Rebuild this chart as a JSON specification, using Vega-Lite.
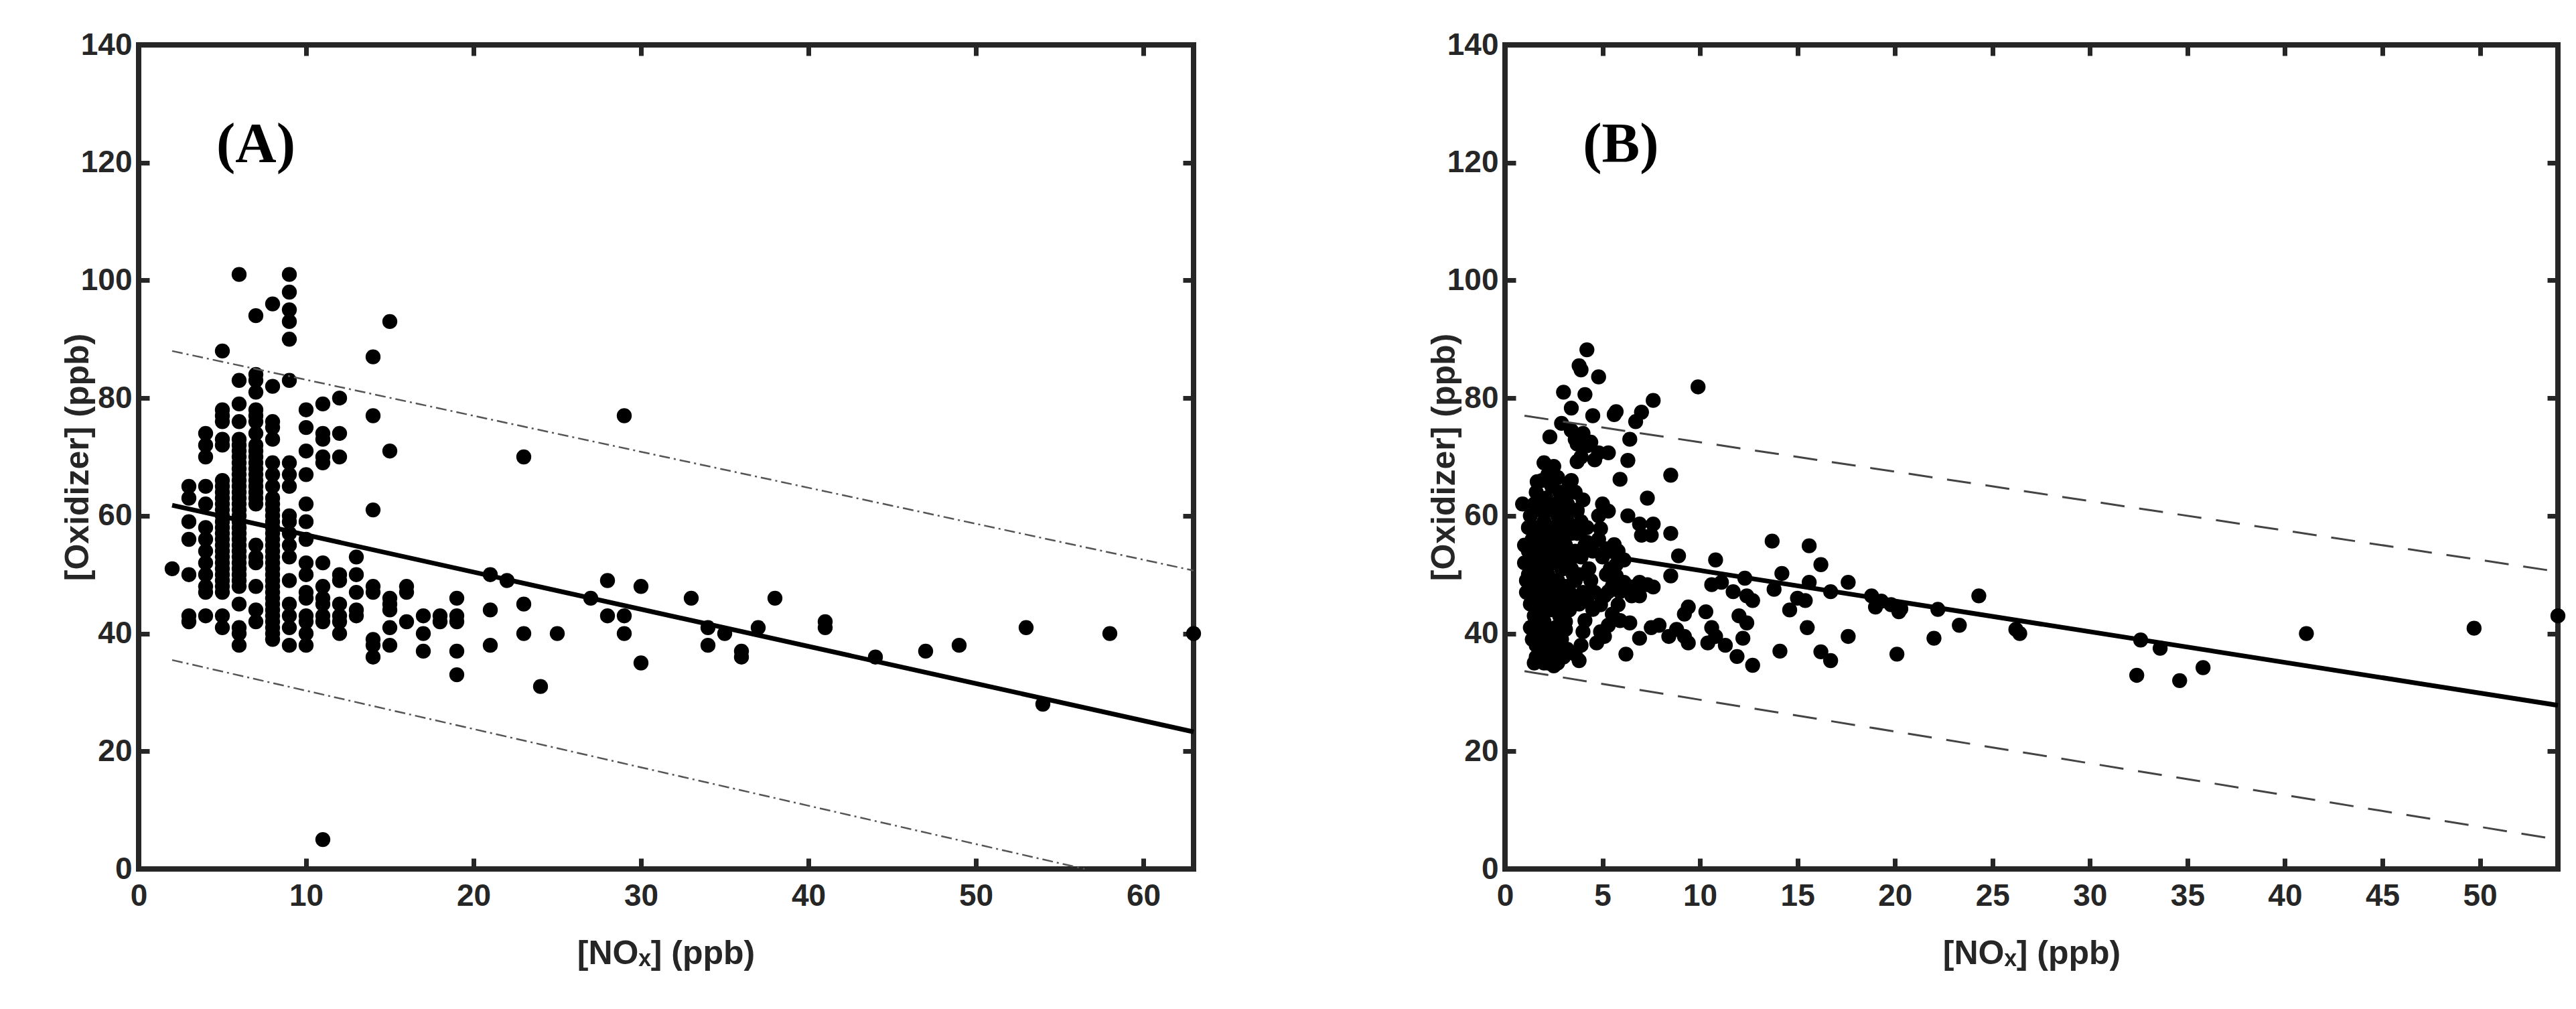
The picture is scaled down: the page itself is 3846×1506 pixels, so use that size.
{
  "$schema": "https://vega.github.io/schema/vega-lite/v6.json",
  "background": "white",
  "padding": {"left": 87, "top": 40, "right": 0, "bottom": 0},
  "spacing": 465,
  "bounds": "flush",
  "datasets": {
    "a_pts": [
      {"nox":2,"ox":51},
      {"nox":3,"ox":65},{"nox":3,"ox":63},{"nox":3,"ox":59},{"nox":3,"ox":56},{"nox":3,"ox":50},{"nox":3,"ox":43},{"nox":3,"ox":42},
      {"nox":4,"ox":74},{"nox":4,"ox":72},{"nox":4,"ox":70},{"nox":4,"ox":65},{"nox":4,"ox":62},{"nox":4,"ox":58},{"nox":4,"ox":56},{"nox":4,"ox":54},{"nox":4,"ox":52},{"nox":4,"ox":50},{"nox":4,"ox":48},{"nox":4,"ox":47},{"nox":4,"ox":43},
      {"nox":5,"ox":88},{"nox":5,"ox":78},{"nox":5,"ox":77},{"nox":5,"ox":76},{"nox":5,"ox":73},{"nox":5,"ox":72},{"nox":5,"ox":66},{"nox":5,"ox":65},{"nox":5,"ox":64},{"nox":5,"ox":63},{"nox":5,"ox":62},{"nox":5,"ox":61},{"nox":5,"ox":60},{"nox":5,"ox":59},{"nox":5,"ox":58},{"nox":5,"ox":57},{"nox":5,"ox":56},{"nox":5,"ox":55},{"nox":5,"ox":54},{"nox":5,"ox":53},{"nox":5,"ox":52},{"nox":5,"ox":51},{"nox":5,"ox":50},{"nox":5,"ox":49},{"nox":5,"ox":48},{"nox":5,"ox":47},{"nox":5,"ox":43},{"nox":5,"ox":41},
      {"nox":6,"ox":101},{"nox":6,"ox":83},{"nox":6,"ox":79},{"nox":6,"ox":76},{"nox":6,"ox":73},{"nox":6,"ox":72},{"nox":6,"ox":71},{"nox":6,"ox":70},{"nox":6,"ox":69},{"nox":6,"ox":68},{"nox":6,"ox":67},{"nox":6,"ox":66},{"nox":6,"ox":65},{"nox":6,"ox":64},{"nox":6,"ox":63},{"nox":6,"ox":62},{"nox":6,"ox":61},{"nox":6,"ox":60},{"nox":6,"ox":59},{"nox":6,"ox":58},{"nox":6,"ox":57},{"nox":6,"ox":56},{"nox":6,"ox":55},{"nox":6,"ox":54},{"nox":6,"ox":53},{"nox":6,"ox":52},{"nox":6,"ox":51},{"nox":6,"ox":50},{"nox":6,"ox":49},{"nox":6,"ox":48},{"nox":6,"ox":45},{"nox":6,"ox":41},{"nox":6,"ox":40},{"nox":6,"ox":38},
      {"nox":7,"ox":94},{"nox":7,"ox":84},{"nox":7,"ox":83},{"nox":7,"ox":81},{"nox":7,"ox":78},{"nox":7,"ox":77},{"nox":7,"ox":76},{"nox":7,"ox":74},{"nox":7,"ox":72},{"nox":7,"ox":71},{"nox":7,"ox":70},{"nox":7,"ox":69},{"nox":7,"ox":68},{"nox":7,"ox":67},{"nox":7,"ox":66},{"nox":7,"ox":65},{"nox":7,"ox":64},{"nox":7,"ox":63},{"nox":7,"ox":62},{"nox":7,"ox":55},{"nox":7,"ox":53},{"nox":7,"ox":52},{"nox":7,"ox":48},{"nox":7,"ox":44},{"nox":7,"ox":42},
      {"nox":8,"ox":96},{"nox":8,"ox":82},{"nox":8,"ox":76},{"nox":8,"ox":75},{"nox":8,"ox":73},{"nox":8,"ox":69},{"nox":8,"ox":67},{"nox":8,"ox":65},{"nox":8,"ox":63},{"nox":8,"ox":62},{"nox":8,"ox":61},{"nox":8,"ox":60},{"nox":8,"ox":59},{"nox":8,"ox":58},{"nox":8,"ox":57},{"nox":8,"ox":56},{"nox":8,"ox":55},{"nox":8,"ox":54},{"nox":8,"ox":53},{"nox":8,"ox":52},{"nox":8,"ox":51},{"nox":8,"ox":50},{"nox":8,"ox":49},{"nox":8,"ox":48},{"nox":8,"ox":47},{"nox":8,"ox":46},{"nox":8,"ox":45},{"nox":8,"ox":44},{"nox":8,"ox":43},{"nox":8,"ox":42},{"nox":8,"ox":41},{"nox":8,"ox":40},{"nox":8,"ox":39},
      {"nox":9,"ox":101},{"nox":9,"ox":98},{"nox":9,"ox":95},{"nox":9,"ox":93},{"nox":9,"ox":90},{"nox":9,"ox":83},{"nox":9,"ox":69},{"nox":9,"ox":67},{"nox":9,"ox":65},{"nox":9,"ox":60},{"nox":9,"ox":59},{"nox":9,"ox":57},{"nox":9,"ox":55},{"nox":9,"ox":53},{"nox":9,"ox":49},{"nox":9,"ox":45},{"nox":9,"ox":43},{"nox":9,"ox":41},{"nox":9,"ox":38},
      {"nox":10,"ox":78},{"nox":10,"ox":75},{"nox":10,"ox":71},{"nox":10,"ox":67},{"nox":10,"ox":62},{"nox":10,"ox":59},{"nox":10,"ox":56},{"nox":10,"ox":52},{"nox":10,"ox":50},{"nox":10,"ox":47},{"nox":10,"ox":46},{"nox":10,"ox":43},{"nox":10,"ox":42},{"nox":10,"ox":40},{"nox":10,"ox":38},
      {"nox":11,"ox":79},{"nox":11,"ox":74},{"nox":11,"ox":73},{"nox":11,"ox":70},{"nox":11,"ox":69},{"nox":11,"ox":52},{"nox":11,"ox":48},{"nox":11,"ox":46},{"nox":11,"ox":45},{"nox":11,"ox":43},{"nox":11,"ox":42},{"nox":11,"ox":5},
      {"nox":12,"ox":80},{"nox":12,"ox":74},{"nox":12,"ox":70},{"nox":12,"ox":50},{"nox":12,"ox":49},{"nox":12,"ox":45},{"nox":12,"ox":43},{"nox":12,"ox":42},{"nox":12,"ox":40},
      {"nox":13,"ox":53},{"nox":13,"ox":50},{"nox":13,"ox":47},{"nox":13,"ox":44},{"nox":13,"ox":43},
      {"nox":14,"ox":87},{"nox":14,"ox":77},{"nox":14,"ox":61},{"nox":14,"ox":48},{"nox":14,"ox":47},{"nox":14,"ox":39},{"nox":14,"ox":38},{"nox":14,"ox":36},
      {"nox":15,"ox":93},{"nox":15,"ox":71},{"nox":15,"ox":46},{"nox":15,"ox":45},{"nox":15,"ox":44},{"nox":15,"ox":41},{"nox":15,"ox":38},
      {"nox":16,"ox":48},{"nox":16,"ox":47},{"nox":16,"ox":42},
      {"nox":17,"ox":43},{"nox":17,"ox":40},{"nox":17,"ox":37},
      {"nox":18,"ox":43},{"nox":18,"ox":42},
      {"nox":19,"ox":46},{"nox":19,"ox":43},{"nox":19,"ox":42},{"nox":19,"ox":37},{"nox":19,"ox":33},
      {"nox":21,"ox":50},{"nox":21,"ox":44},{"nox":21,"ox":38},
      {"nox":22,"ox":49},
      {"nox":23,"ox":70},{"nox":23,"ox":45},{"nox":23,"ox":40},
      {"nox":24,"ox":31},
      {"nox":25,"ox":40},
      {"nox":27,"ox":46},
      {"nox":28,"ox":49},{"nox":28,"ox":43},
      {"nox":29,"ox":77},{"nox":29,"ox":43},{"nox":29,"ox":40},
      {"nox":30,"ox":48},{"nox":30,"ox":35},
      {"nox":33,"ox":46},
      {"nox":34,"ox":41},{"nox":34,"ox":38},
      {"nox":35,"ox":40},
      {"nox":36,"ox":37},{"nox":36,"ox":36},
      {"nox":37,"ox":41},
      {"nox":38,"ox":46},
      {"nox":41,"ox":42},{"nox":41,"ox":41},
      {"nox":44,"ox":36},
      {"nox":47,"ox":37},
      {"nox":49,"ox":38},
      {"nox":53,"ox":41},
      {"nox":54,"ox":28},
      {"nox":58,"ox":40},
      {"nox":63,"ox":40}
    ],
    "a_lines": [
      {"line":"fit","nox":2,"ox":61.8},{"line":"fit","nox":63,"ox":23.3},
      {"line":"upper","nox":2,"ox":88},{"line":"upper","nox":63,"ox":50.7},
      {"line":"lower","nox":2,"ox":35.5},{"line":"lower","nox":56.5,"ox":0}
    ],
    "b_pts": [
      {"nox":0.9,"ox":62},{"nox":1.0,"ox":55},{"nox":1.0,"ox":52},{"nox":1.1,"ox":49},{"nox":1.1,"ox":47},{"nox":1.2,"ox":58},{"nox":1.2,"ox":54},{"nox":1.3,"ox":60},{"nox":1.3,"ox":45},{"nox":1.4,"ox":51},{"nox":1.4,"ox":56},{"nox":1.5,"ox":62},{"nox":1.5,"ox":48},{"nox":1.5,"ox":43},{"nox":1.6,"ox":38},{"nox":1.6,"ox":36},{"nox":1.5,"ox":35},{"nox":1.7,"ox":40},
      {"nox":1.6,"ox":64},{"nox":1.7,"ox":58},{"nox":1.7,"ox":53},{"nox":1.7,"ox":50},{"nox":1.8,"ox":46},{"nox":1.8,"ox":61},{"nox":1.8,"ox":56},{"nox":1.9,"ox":44},{"nox":1.9,"ox":66},{"nox":1.9,"ox":52},{"nox":2.0,"ox":59},{"nox":2.0,"ox":48},{"nox":2.0,"ox":42},{"nox":2.0,"ox":37},{"nox":2.0,"ox":35},{"nox":1.9,"ox":39},
      {"nox":2.1,"ox":63},{"nox":2.1,"ox":55},{"nox":2.1,"ox":51},{"nox":2.2,"ox":67},{"nox":2.2,"ox":46},{"nox":2.2,"ox":57},{"nox":2.3,"ox":61},{"nox":2.3,"ox":53},{"nox":2.3,"ox":44},{"nox":2.4,"ox":65},{"nox":2.4,"ox":49},{"nox":2.4,"ox":40},{"nox":2.4,"ox":36},{"nox":2.5,"ox":58},{"nox":2.5,"ox":55},{"nox":2.5,"ox":47},{"nox":2.5,"ox":34.5},{"nox":2.3,"ox":38},
      {"nox":2.6,"ox":62},{"nox":2.6,"ox":52},{"nox":2.6,"ox":45},{"nox":2.7,"ox":60},{"nox":2.7,"ox":56},{"nox":2.7,"ox":49},{"nox":2.8,"ox":64},{"nox":2.8,"ox":43},{"nox":2.8,"ox":53},{"nox":2.9,"ox":58},{"nox":2.9,"ox":47},{"nox":2.9,"ox":39},{"nox":3.0,"ox":61},{"nox":3.0,"ox":51},{"nox":3.0,"ox":45},{"nox":3.0,"ox":36},{"nox":2.7,"ox":35},
      {"nox":3.1,"ox":63},{"nox":3.1,"ox":55},{"nox":3.2,"ox":48},{"nox":3.2,"ox":59},{"nox":3.3,"ox":52},{"nox":3.3,"ox":44},{"nox":3.4,"ox":57},{"nox":3.4,"ox":61},{"nox":3.5,"ox":50},{"nox":3.5,"ox":46},{"nox":3.6,"ox":54},{"nox":3.6,"ox":64},{"nox":3.4,"ox":66},
      {"nox":3.7,"ox":57},{"nox":3.8,"ox":50},{"nox":3.9,"ox":53},{"nox":4.0,"ox":47},{"nox":4.1,"ox":55},{"nox":4.2,"ox":58},{"nox":4.3,"ox":51},{"nox":4.4,"ox":49},{"nox":4.5,"ox":54},{"nox":4.6,"ox":47},{"nox":4.8,"ox":56},{"nox":5.0,"ox":53},{"nox":5.2,"ox":50},{"nox":5.5,"ox":48},{"nox":5.8,"ox":54},
      {"nox":4.0,"ox":57.8},{"nox":4.9,"ox":57.8},{"nox":4.2,"ox":55.5},{"nox":5.2,"ox":54.4},
      {"nox":1.2,"ox":50},{"nox":1.3,"ox":53},{"nox":1.4,"ox":47},{"nox":1.6,"ox":55},{"nox":1.6,"ox":45},{"nox":1.8,"ox":49},{"nox":1.8,"ox":42},{"nox":2.0,"ox":54},{"nox":2.0,"ox":62},{"nox":2.1,"ox":45},{"nox":2.2,"ox":50},{"nox":2.2,"ox":40},{"nox":2.3,"ox":58},{"nox":2.4,"ox":52},{"nox":2.5,"ox":44},{"nox":2.5,"ox":61},{"nox":2.6,"ox":48},{"nox":2.6,"ox":41},{"nox":2.7,"ox":54},{"nox":2.8,"ox":58},{"nox":2.8,"ox":46},{"nox":2.9,"ox":51},{"nox":2.9,"ox":64},{"nox":3.0,"ox":56},{"nox":3.0,"ox":48},{"nox":3.1,"ox":42},{"nox":3.2,"ox":54},{"nox":3.2,"ox":62},{"nox":3.3,"ox":47},{"nox":3.4,"ox":51},{"nox":3.5,"ox":58},{"nox":3.6,"ox":49},{"nox":3.7,"ox":61},{"nox":3.8,"ox":45},{"nox":3.9,"ox":59},{"nox":1.4,"ox":39},{"nox":1.8,"ox":36},{"nox":2.2,"ox":35},{"nox":2.6,"ox":37},{"nox":1.3,"ox":41},
      {"nox":4.2,"ox":88.2},{"nox":3.8,"ox":85.5},{"nox":3.9,"ox":84.8},{"nox":4.8,"ox":83.6},{"nox":3.0,"ox":81},{"nox":4.1,"ox":80.6},{"nox":7.6,"ox":79.6},{"nox":3.4,"ox":78.3},{"nox":5.7,"ox":77.7},{"nox":5.6,"ox":77.2},{"nox":7.0,"ox":77.6},{"nox":4.5,"ox":77},{"nox":6.7,"ox":76},{"nox":2.9,"ox":75.7},{"nox":3.4,"ox":74.5},{"nox":2.3,"ox":73.4},{"nox":6.4,"ox":73},{"nox":3.7,"ox":72.2},{"nox":4.2,"ox":71.9},{"nox":4.8,"ox":70.7},{"nox":5.3,"ox":70.7},{"nox":3.7,"ox":69.2},{"nox":6.3,"ox":69.4},{"nox":2.0,"ox":69},{"nox":2.5,"ox":68.4},{"nox":8.5,"ox":66.9},{"nox":5.9,"ox":66.2},{"nox":1.65,"ox":65.8},{"nox":3.3,"ox":65.4},{"nox":2.7,"ox":66.5},{"nox":4.0,"ox":62.7},{"nox":5.0,"ox":62},{"nox":7.3,"ox":63},{"nox":3.7,"ox":60.8},{"nox":4.8,"ox":60},{"nox":5.3,"ox":60.8},{"nox":6.3,"ox":60},{"nox":6.9,"ox":58.6},{"nox":7.6,"ox":58.6},{"nox":7.0,"ox":56.7},{"nox":7.5,"ox":56.7},{"nox":8.5,"ox":57},{"nox":5.6,"ox":55.1},{"nox":8.9,"ox":53.2},{"nox":10.8,"ox":52.5},{"nox":13.7,"ox":55.7},{"nox":15.6,"ox":54.9},{"nox":16.2,"ox":51.7},
      {"nox":4.0,"ox":74},{"nox":3.6,"ox":73},{"nox":4.4,"ox":72.5},{"nox":3.9,"ox":70},{"nox":4.6,"ox":69.5},{"nox":9.9,"ox":81.9},
      {"nox":8.5,"ox":49.8},{"nox":10.6,"ox":48.3},{"nox":11.1,"ox":48.7},{"nox":11.7,"ox":47.1},{"nox":12.4,"ox":46.4},{"nox":12.3,"ox":49.4},{"nox":12.7,"ox":45.6},{"nox":13.8,"ox":47.5},{"nox":14.2,"ox":50.2},{"nox":15.0,"ox":46},{"nox":15.4,"ox":45.6},{"nox":15.6,"ox":48.7},{"nox":16.7,"ox":47.1},{"nox":17.6,"ox":48.7},{"nox":18.8,"ox":46.4},{"nox":19.0,"ox":44.5},{"nox":19.8,"ox":44.9},{"nox":20.2,"ox":43.7},{"nox":22.2,"ox":44.1},{"nox":24.3,"ox":46.4},{"nox":23.3,"ox":41.4},{"nox":26.2,"ox":40.7},{"nox":26.4,"ox":40},{"nox":22.0,"ox":39.2},{"nox":17.6,"ox":39.5},{"nox":20.1,"ox":36.5},{"nox":15.5,"ox":41},{"nox":14.6,"ox":44},{"nox":14.1,"ox":37},{"nox":16.2,"ox":36.9},{"nox":16.7,"ox":35.4},{"nox":12.7,"ox":34.6},{"nox":11.9,"ox":36.1},{"nox":11.3,"ox":38},{"nox":12.2,"ox":39.2},{"nox":12.4,"ox":41.8},{"nox":12.0,"ox":43},{"nox":10.8,"ox":39.5},{"nox":10.4,"ox":38.4},{"nox":10.6,"ox":41},{"nox":10.3,"ox":43.7},{"nox":9.4,"ox":44.5},{"nox":9.2,"ox":43.3},{"nox":9.4,"ox":38.4},{"nox":9.2,"ox":39.5},{"nox":8.8,"ox":40.7},{"nox":8.4,"ox":39.5},{"nox":7.9,"ox":41.4},{"nox":7.5,"ox":41},{"nox":6.9,"ox":39.2},{"nox":6.2,"ox":36.5},{"nox":6.4,"ox":41.8},{"nox":5.9,"ox":42.2},{"nox":5.3,"ox":41.4},{"nox":5.1,"ox":39.5},{"nox":4.7,"ox":38.4},{"nox":4.9,"ox":40.3},{"nox":5.5,"ox":43.3},{"nox":5.8,"ox":44.9},
      {"nox":5.7,"ox":49.8},{"nox":6.1,"ox":48.7},{"nox":6.5,"ox":47.9},{"nox":6.9,"ox":48.7},{"nox":7.3,"ox":48.3},{"nox":7.6,"ox":47.9},{"nox":5.3,"ox":47.1},{"nox":4.9,"ox":44.9},{"nox":4.5,"ox":44.1},{"nox":4.2,"ox":45.6},{"nox":5.1,"ox":46.4},{"nox":6.5,"ox":46.4},{"nox":5.9,"ox":47.1},{"nox":6.9,"ox":46.4},{"nox":5.4,"ox":51},{"nox":5.7,"ox":51.7},{"nox":6.1,"ox":52.5},
      {"nox":3.1,"ox":40.7},{"nox":3.2,"ox":37.3},{"nox":3.8,"ox":35.4},{"nox":3.9,"ox":38},{"nox":4.1,"ox":42.2},{"nox":4.0,"ox":40.3},{"nox":3.6,"ox":36.5},
      {"nox":19.3,"ox":45.5},{"nox":20.3,"ox":44.2},
      {"nox":32.6,"ox":38.9},{"nox":32.4,"ox":32.9},{"nox":33.6,"ox":37.5},{"nox":34.6,"ox":32},{"nox":35.8,"ox":34.2},{"nox":41.1,"ox":40},{"nox":49.7,"ox":40.9},{"nox":54.0,"ox":43}
    ],
    "b_lines": [
      {"line":"fit","nox":1.2,"ox":55.3},{"line":"fit","nox":54,"ox":27.8},
      {"line":"upper","nox":1,"ox":77},{"line":"upper","nox":54,"ox":50.5},
      {"line":"lower","nox":1,"ox":33.6},{"line":"lower","nox":54,"ox":5}
    ],
    "labels": [{"panel":"A","text":"(A)"},{"panel":"B","text":"(B)"}]
  },
  "hconcat": [
    {
      "width": 1575,
      "height": 1230,
      "resolve": {"axis": {"x": "independent", "y": "independent"}},
      "layer": [
        {
          "data": {"name": "a_pts"},
          "mark": {"type": "circle", "size": 500, "color": "#000", "opacity": 1},
          "encoding": {
            "x": {"field": "nox", "type": "quantitative", "scale": {"domain": [0, 63], "nice": false, "zero": false},
                  "axis": {"values": [0,10,20,30,40,50,60], "title": "[NOₓ] (ppb)", "labelPadding": 34, "titleX": 787, "titleY": 126, "titleBaseline": "middle"}},
            "y": {"field": "ox", "type": "quantitative", "scale": {"domain": [0, 140], "nice": false, "zero": false},
                  "axis": {"values": [0,20,40,60,80,100,120,140], "title": "[Oxidizer] (ppb)", "labelPadding": 26, "titleX": -91, "titleY": 615, "titleBaseline": "middle"}}
          }
        },
        {
          "data": {"name": "a_lines"},
          "transform": [{"filter": "datum.line == 'fit'"}],
          "mark": {"type": "line", "color": "#000", "strokeWidth": 7},
          "encoding": {
            "x": {"field": "nox", "type": "quantitative", "axis": {"orient": "top", "values": [0,10,20,30,40,50,60], "labels": false, "title": null}},
            "y": {"field": "ox", "type": "quantitative", "axis": {"orient": "right", "values": [0,20,40,60,80,100,120,140], "labels": false, "title": null}}
          }
        },
        {
          "data": {"name": "a_lines"},
          "transform": [{"filter": "datum.line != 'fit'"}],
          "mark": {"type": "line", "color": "#555", "strokeWidth": 2.5, "strokeDash": [16, 6, 3, 6]},
          "encoding": {
            "x": {"field": "nox", "type": "quantitative", "axis": null},
            "y": {"field": "ox", "type": "quantitative", "axis": null},
            "detail": {"field": "line"}
          }
        },
        {
          "data": {"name": "labels"},
          "transform": [{"filter": "datum.panel == 'A'"}],
          "mark": {"type": "text", "font": "Liberation Serif", "fontWeight": "bold", "fontSize": 85, "color": "#000", "align": "center", "baseline": "middle"},
          "encoding": {
            "x": {"datum": 7.0, "type": "quantitative", "axis": null},
            "y": {"datum": 123, "type": "quantitative", "axis": null},
            "text": {"field": "text"}
          }
        }
      ]
    },
    {
      "width": 1572,
      "height": 1230,
      "resolve": {"axis": {"x": "independent", "y": "independent"}},
      "layer": [
        {
          "data": {"name": "b_pts"},
          "mark": {"type": "circle", "size": 500, "color": "#000", "opacity": 1},
          "encoding": {
            "x": {"field": "nox", "type": "quantitative", "scale": {"domain": [0, 54], "nice": false, "zero": false},
                  "axis": {"values": [0,5,10,15,20,25,30,35,40,45,50], "title": "[NOₓ] (ppb)", "labelPadding": 34, "titleX": 786, "titleY": 126, "titleBaseline": "middle"}},
            "y": {"field": "ox", "type": "quantitative", "scale": {"domain": [0, 140], "nice": false, "zero": false},
                  "axis": {"values": [0,20,40,60,80,100,120,140], "title": "[Oxidizer] (ppb)", "labelPadding": 26, "titleX": -91, "titleY": 615, "titleBaseline": "middle"}}
          }
        },
        {
          "data": {"name": "b_lines"},
          "transform": [{"filter": "datum.line == 'fit'"}],
          "mark": {"type": "line", "color": "#000", "strokeWidth": 7},
          "encoding": {
            "x": {"field": "nox", "type": "quantitative", "axis": {"orient": "top", "values": [0,5,10,15,20,25,30,35,40,45,50], "labels": false, "title": null}},
            "y": {"field": "ox", "type": "quantitative", "axis": {"orient": "right", "values": [0,20,40,60,80,100,120,140], "labels": false, "title": null}}
          }
        },
        {
          "data": {"name": "b_lines"},
          "transform": [{"filter": "datum.line != 'fit'"}],
          "mark": {"type": "line", "color": "#444", "strokeWidth": 3, "strokeDash": [36, 22]},
          "encoding": {
            "x": {"field": "nox", "type": "quantitative", "axis": null},
            "y": {"field": "ox", "type": "quantitative", "axis": null},
            "detail": {"field": "line"}
          }
        },
        {
          "data": {"name": "labels"},
          "transform": [{"filter": "datum.panel == 'B'"}],
          "mark": {"type": "text", "font": "Liberation Serif", "fontWeight": "bold", "fontSize": 85, "color": "#000", "align": "center", "baseline": "middle"},
          "encoding": {
            "x": {"datum": 5.94, "type": "quantitative", "axis": null},
            "y": {"datum": 123, "type": "quantitative", "axis": null},
            "text": {"field": "text"}
          }
        }
      ]
    }
  ],
  "config": {
    "view": {"stroke": "#262626", "strokeWidth": 8},
    "axis": {
      "domain": false, "grid": false,
      "labelFont": "Liberation Sans", "labelFontWeight": "bold", "labelFontSize": 46, "labelColor": "#262626",
      "labelFlush": false, "labelOverlap": false,
      "tickColor": "#262626", "tickWidth": 7, "tickSize": -16,
      "titleFont": "Liberation Sans", "titleFontWeight": "bold", "titleFontSize": 50, "titleColor": "#262626"
    }
  }
}
